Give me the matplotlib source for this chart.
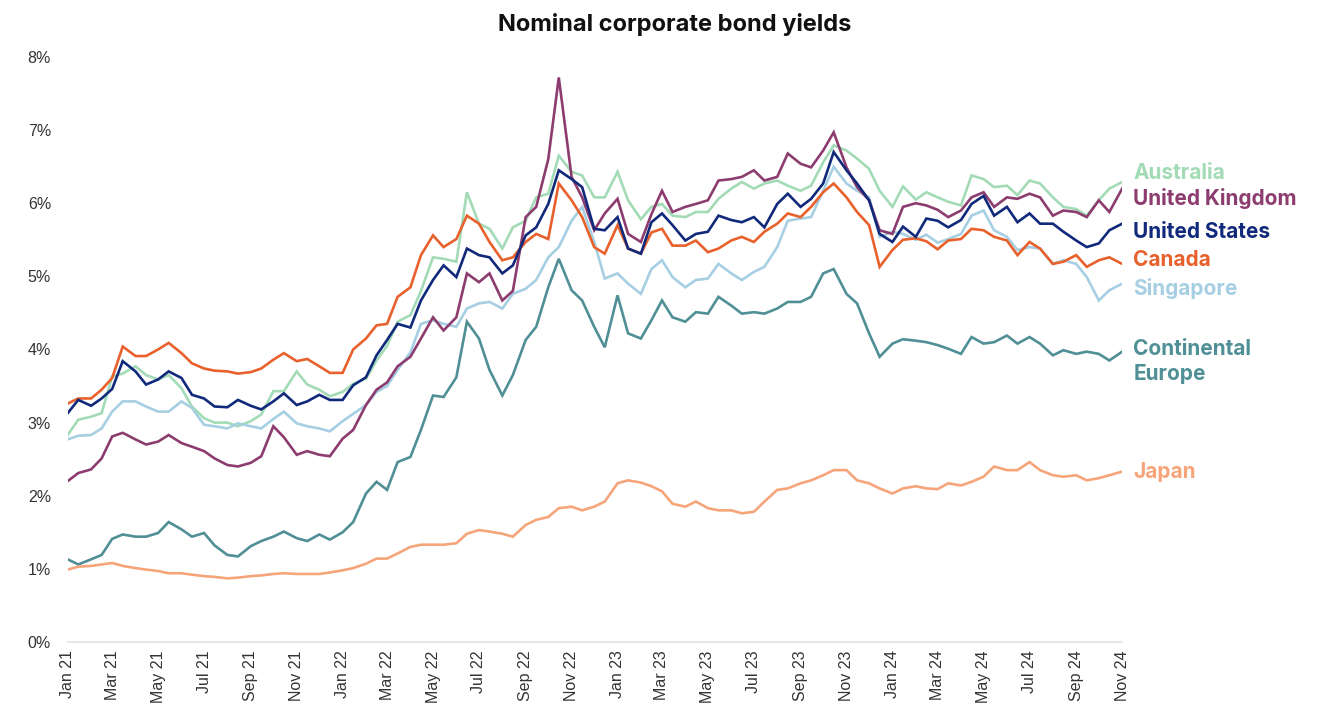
import matplotlib
matplotlib.use("Agg")
import matplotlib.pyplot as plt
import matplotlib.dates as mdates
from matplotlib.ticker import FuncFormatter
import pandas as pd

# semi-monthly observations, Jan 2021 - Nov 2024 (yield, %)
dates = pd.date_range("2021-01-01", periods=93, freq="SMS")

australia = [2.83, 3.04, 3.08, 3.13, 3.63, 3.67, 3.77, 3.65, 3.59, 3.65, 3.47, 3.22, 3.06, 3.00, 3.00, 2.95,
             3.02, 3.11, 3.43, 3.43, 3.70, 3.52, 3.45, 3.36, 3.42, 3.53, 3.60, 3.85, 4.05, 4.38, 4.47, 4.80,
             5.26, 5.24, 5.20, 6.15, 5.72, 5.65, 5.38, 5.67, 5.76, 6.08, 6.13, 6.65, 6.43, 6.38, 6.08, 6.08,
             6.43, 6.04, 5.78, 5.95, 5.99, 5.83, 5.81, 5.88, 5.88, 6.06, 6.20, 6.29, 6.20, 6.27, 6.31, 6.24,
             6.17, 6.24, 6.56, 6.79, 6.72, 6.61, 6.47, 6.17, 5.95, 6.23, 6.05, 6.15, 6.08, 6.02, 5.97, 6.38,
             6.33, 6.22, 6.24, 6.11, 6.31, 6.27, 6.08, 5.95, 5.92, 5.83, 6.04, 6.20, 6.29]
uk = [2.20, 2.31, 2.36, 2.51, 2.81, 2.86, 2.77, 2.70, 2.74, 2.83, 2.72, 2.67, 2.61, 2.51, 2.42, 2.40,
      2.45, 2.54, 2.95, 2.80, 2.56, 2.61, 2.56, 2.54, 2.78, 2.90, 3.24, 3.45, 3.55, 3.77, 3.90, 4.15,
      4.44, 4.26, 4.44, 5.04, 4.92, 5.04, 4.67, 4.80, 5.81, 5.95, 6.60, 7.72, 6.36, 6.08, 5.63, 5.86,
      6.06, 5.58, 5.47, 5.85, 6.17, 5.88, 5.95, 5.99, 6.04, 6.31, 6.33, 6.36, 6.45, 6.31, 6.36, 6.68,
      6.54, 6.49, 6.72, 6.97, 6.49, 6.22, 6.04, 5.63, 5.58, 5.95, 6.00, 5.97, 5.91, 5.81, 5.90, 6.08,
      6.15, 5.95, 6.08, 6.06, 6.13, 6.08, 5.83, 5.90, 5.88, 5.81, 6.04, 5.88, 6.20]
us = [3.13, 3.31, 3.23, 3.33, 3.46, 3.84, 3.70, 3.52, 3.59, 3.70, 3.61, 3.38, 3.33, 3.22, 3.21, 3.31,
      3.23, 3.18, 3.29, 3.40, 3.24, 3.29, 3.38, 3.31, 3.31, 3.51, 3.62, 3.92, 4.13, 4.35, 4.30, 4.67,
      4.95, 5.15, 4.99, 5.38, 5.29, 5.26, 5.04, 5.15, 5.56, 5.67, 5.99, 6.45, 6.33, 6.22, 5.65, 5.63,
      5.81, 5.38, 5.31, 5.74, 5.86, 5.70, 5.49, 5.58, 5.61, 5.83, 5.77, 5.74, 5.81, 5.67, 5.99, 6.13,
      5.95, 6.06, 6.27, 6.70, 6.45, 6.27, 6.04, 5.58, 5.47, 5.68, 5.54, 5.79, 5.76, 5.67, 5.77, 5.99,
      6.10, 5.83, 5.95, 5.74, 5.86, 5.72, 5.72, 5.61, 5.49, 5.40, 5.45, 5.63, 5.72]
canada = [3.26, 3.33, 3.33, 3.45, 3.61, 4.04, 3.91, 3.91, 4.00, 4.09, 3.95, 3.81, 3.74, 3.71, 3.70, 3.67,
          3.69, 3.74, 3.86, 3.95, 3.84, 3.87, 3.77, 3.68, 3.68, 4.00, 4.15, 4.33, 4.35, 4.72, 4.85, 5.29,
          5.56, 5.40, 5.51, 5.83, 5.72, 5.47, 5.22, 5.26, 5.47, 5.58, 5.51, 6.27, 6.04, 5.81, 5.40, 5.31,
          5.70, 5.38, 5.31, 5.60, 5.65, 5.42, 5.42, 5.49, 5.33, 5.38, 5.49, 5.54, 5.47, 5.61, 5.72, 5.86,
          5.81, 5.95, 6.15, 6.27, 6.08, 5.88, 5.70, 5.13, 5.36, 5.50, 5.52, 5.48, 5.37, 5.49, 5.51, 5.65,
          5.63, 5.54, 5.49, 5.29, 5.47, 5.38, 5.17, 5.20, 5.29, 5.13, 5.22, 5.26, 5.17]
singapore = [2.77, 2.82, 2.83, 2.92, 3.15, 3.29, 3.29, 3.22, 3.15, 3.15, 3.29, 3.20, 2.97, 2.95, 2.92, 2.99,
             2.95, 2.92, 3.05, 3.15, 2.99, 2.95, 2.92, 2.88, 3.02, 3.12, 3.24, 3.42, 3.50, 3.72, 3.96, 4.35,
             4.40, 4.35, 4.31, 4.56, 4.63, 4.65, 4.56, 4.76, 4.83, 4.95, 5.26, 5.40, 5.76, 5.95, 5.47, 4.97,
             5.04, 4.90, 4.76, 5.10, 5.22, 4.99, 4.85, 4.95, 4.97, 5.17, 5.04, 4.95, 5.06, 5.13, 5.40, 5.76,
             5.79, 5.81, 6.17, 6.50, 6.27, 6.17, 6.08, 5.54, 5.61, 5.58, 5.50, 5.57, 5.46, 5.51, 5.58, 5.83,
             5.90, 5.63, 5.54, 5.36, 5.40, 5.38, 5.17, 5.22, 5.17, 4.99, 4.67, 4.81, 4.90]
europe = [1.13, 1.06, 1.13, 1.19, 1.41, 1.47, 1.44, 1.44, 1.49, 1.64, 1.54, 1.44, 1.49, 1.32, 1.19, 1.17,
          1.31, 1.38, 1.44, 1.51, 1.42, 1.38, 1.47, 1.40, 1.50, 1.64, 2.03, 2.19, 2.08, 2.46, 2.53, 2.90,
          3.37, 3.35, 3.62, 4.38, 4.15, 3.72, 3.37, 3.65, 4.13, 4.31, 4.85, 5.24, 4.81, 4.67, 4.31, 4.03,
          4.74, 4.22, 4.15, 4.40, 4.67, 4.44, 4.38, 4.51, 4.49, 4.72, 4.60, 4.49, 4.51, 4.49, 4.56, 4.65,
          4.65, 4.72, 5.04, 5.10, 4.76, 4.63, 4.22, 3.90, 4.08, 4.14, 4.12, 4.10, 4.06, 4.01, 3.94, 4.17,
          4.08, 4.10, 4.19, 4.08, 4.17, 4.08, 3.92, 3.99, 3.94, 3.97, 3.94, 3.85, 3.97]
japan = [0.99, 1.03, 1.04, 1.06, 1.08, 1.04, 1.01, 0.99, 0.97, 0.94, 0.94, 0.92, 0.90, 0.89, 0.87, 0.88,
         0.90, 0.91, 0.93, 0.94, 0.93, 0.93, 0.93, 0.95, 0.98, 1.01, 1.07, 1.14, 1.14, 1.21, 1.30, 1.33,
         1.33, 1.33, 1.35, 1.48, 1.53, 1.51, 1.48, 1.44, 1.60, 1.67, 1.71, 1.83, 1.85, 1.80, 1.85, 1.92,
         2.17, 2.21, 2.18, 2.13, 2.06, 1.89, 1.85, 1.92, 1.83, 1.80, 1.80, 1.76, 1.78, 1.92, 2.08, 2.10,
         2.17, 2.21, 2.28, 2.35, 2.35, 2.21, 2.17, 2.10, 2.03, 2.10, 2.13, 2.10, 2.09, 2.17, 2.14, 2.19,
         2.26, 2.40, 2.35, 2.35, 2.46, 2.35, 2.28, 2.26, 2.28, 2.21, 2.24, 2.28, 2.33]

# name, values, colour, label height (%)
series = [
    ("Australia", australia, "#a3dbb6", 6.42),
    ("Singapore", singapore, "#a6cfe3", 4.84),
    ("Continental\nEurope", europe, "#4f8f95", 3.83),
    ("Japan", japan, "#f6a57b", 2.32),
    ("United Kingdom", uk, "#8c3c6e", 6.06),
    ("Canada", canada, "#e8612c", 5.22),
    ("United States", us, "#10297a", 5.60),
]

fig = plt.figure(figsize=(13.28, 7.05), dpi=100)
ax = fig.add_axes([0.051, 0.0894, 0.794, 0.8298])

for name, vals, col, ylab in series:
    ax.plot(dates, vals, color=col, lw=1.9, solid_joinstyle="miter")
    ax.annotate(name, xy=(dates[-1], ylab), xytext=(8, 0), textcoords="offset points",
                va="center", ha="left", color=col, fontsize=15, fontweight="bold",
                family="Inter", linespacing=1.3, annotation_clip=False)

ax.set_ylim(0, 8)
ax.set_xlim(dates[0], dates[-1])
ax.yaxis.set_major_formatter(FuncFormatter(lambda v, p: f"{v:.0f}%"))
ax.xaxis.set_major_locator(mdates.MonthLocator(bymonth=[1, 3, 5, 7, 9, 11]))
ax.xaxis.set_major_formatter(mdates.DateFormatter("%b %y"))
ax.tick_params(axis="both", length=0, labelsize=11.5, colors="#333333")
ax.tick_params(axis="x", rotation=90, pad=6)
ax.tick_params(axis="y", pad=12)
for lbl in ax.get_xticklabels() + ax.get_yticklabels():
    lbl.set_family("Liberation Sans")

for s in ["top", "right", "left"]:
    ax.spines[s].set_visible(False)
ax.spines["bottom"].set_color("#e3e3e3")
ax.spines["bottom"].set_linewidth(1.2)

fig.text(0.508, 0.965, "Nominal corporate bond yields", ha="center", va="center",
         fontsize=17, fontweight="bold", family="Inter", color="#111111")

fig.savefig("out.png", dpi=100)
